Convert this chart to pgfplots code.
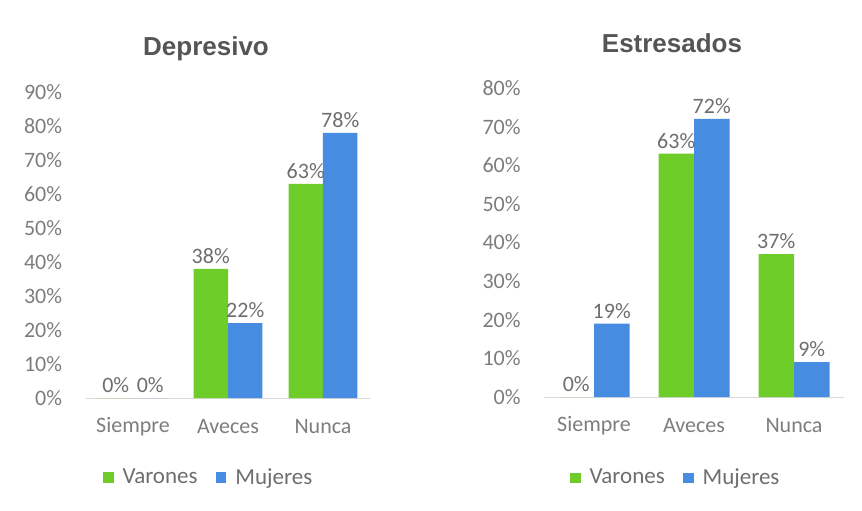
\documentclass[border=0pt]{standalone}
\usepackage{pgfplots}
\pgfplotsset{compat=1.18}
\usepackage{fontspec}
\setmainfont{Carlito}
\newfontfamily\titlefont{Liberation Sans}
\definecolor{cgreen}{RGB}{110,205,40}
\definecolor{cblue}{RGB}{70,140,225}
\definecolor{tgray}{RGB}{110,110,110}
\definecolor{lgray}{RGB}{125,125,125}
\definecolor{ttgray}{RGB}{85,85,85}
\pgfplotsset{
  mybar/.style={
    ybar=0pt, scale only axis, anchor=south west,
    xmin=-0.5, xmax=2.5, ymin=0,
    xtick={0,1,2}, xticklabels={Siempre,Aveces,Nunca},
    axis x line*=bottom, axis y line*=left,
    y axis line style={draw=none},
    x axis line style={draw=gray!30},
    major tick length=0pt,
    /pgf/number format/assume math mode=true,
    tick label style={font=\fontsize{11}{13}\selectfont, text=lgray},
    yticklabel={\pgfmathprintnumber{\tick}\%},
    yticklabel style={anchor=east, inner sep=0pt, xshift=-11.5pt},
    xticklabel style={anchor=center, inner sep=0pt, yshift=-14.5pt},
    nodes near coords={\pgfmathprintnumber{\pgfplotspointmeta}\%},
    every node near coord/.append style={font=\fontsize{11}{13}\selectfont, text=tgray, inner sep=2.5pt},
    legend image code/.code={\fill[##1] (0pt,-2.7pt) rectangle (5.4pt,2.7pt);},
    legend style={draw=none, fill=none, legend columns=2, anchor=west,
      font=\fontsize{11.5}{13}\selectfont, text=tgray,
      /tikz/every even column/.append style={column sep=7pt},
      /tikz/every odd column/.append style={column sep=2.5pt},
      nodes={inner sep=2pt}},
  }
}
\begin{document}
\begin{tikzpicture}
\path (0,0) rectangle (431pt,255pt);
\begin{axis}[mybar, at={(42.75pt,56pt)}, width=142.5pt, height=153pt,
  ymax=90, ytick={0,10,...,90}, bar width=0.363,
  legend style={at={(0.038,-0.261)}}]
\addplot[draw=none, fill=cgreen] coordinates {(0,0) (1,38) (2,63)};
\addplot[draw=none, fill=cblue] coordinates {(0,0) (1,22) (2,78)};
\legend{Varones,Mujeres}
\end{axis}
\begin{axis}[mybar, at={(272pt,56.5pt)}, width=150pt, height=154.5pt,
  ymax=80, ytick={0,10,...,80}, bar width=0.355,
  legend style={at={(0.065,-0.262)}}]
\addplot[draw=none, fill=cgreen] coordinates {(0,0) (1,63) (2,37)};
\addplot[draw=none, fill=cblue] coordinates {(0,19) (1,72) (2,9)};
\legend{Varones,Mujeres}
\end{axis}
\node[anchor=base, font=\titlefont\bfseries\fontsize{13}{15}\selectfont, text=ttgray] at (103pt,227pt) {Depresivo};
\node[anchor=base, font=\titlefont\bfseries\fontsize{13}{15}\selectfont, text=ttgray] at (336pt,228.5pt) {Estresados};
\pgfresetboundingbox
\path (0,0) rectangle (431pt,255pt);
\end{tikzpicture}
\end{document}
